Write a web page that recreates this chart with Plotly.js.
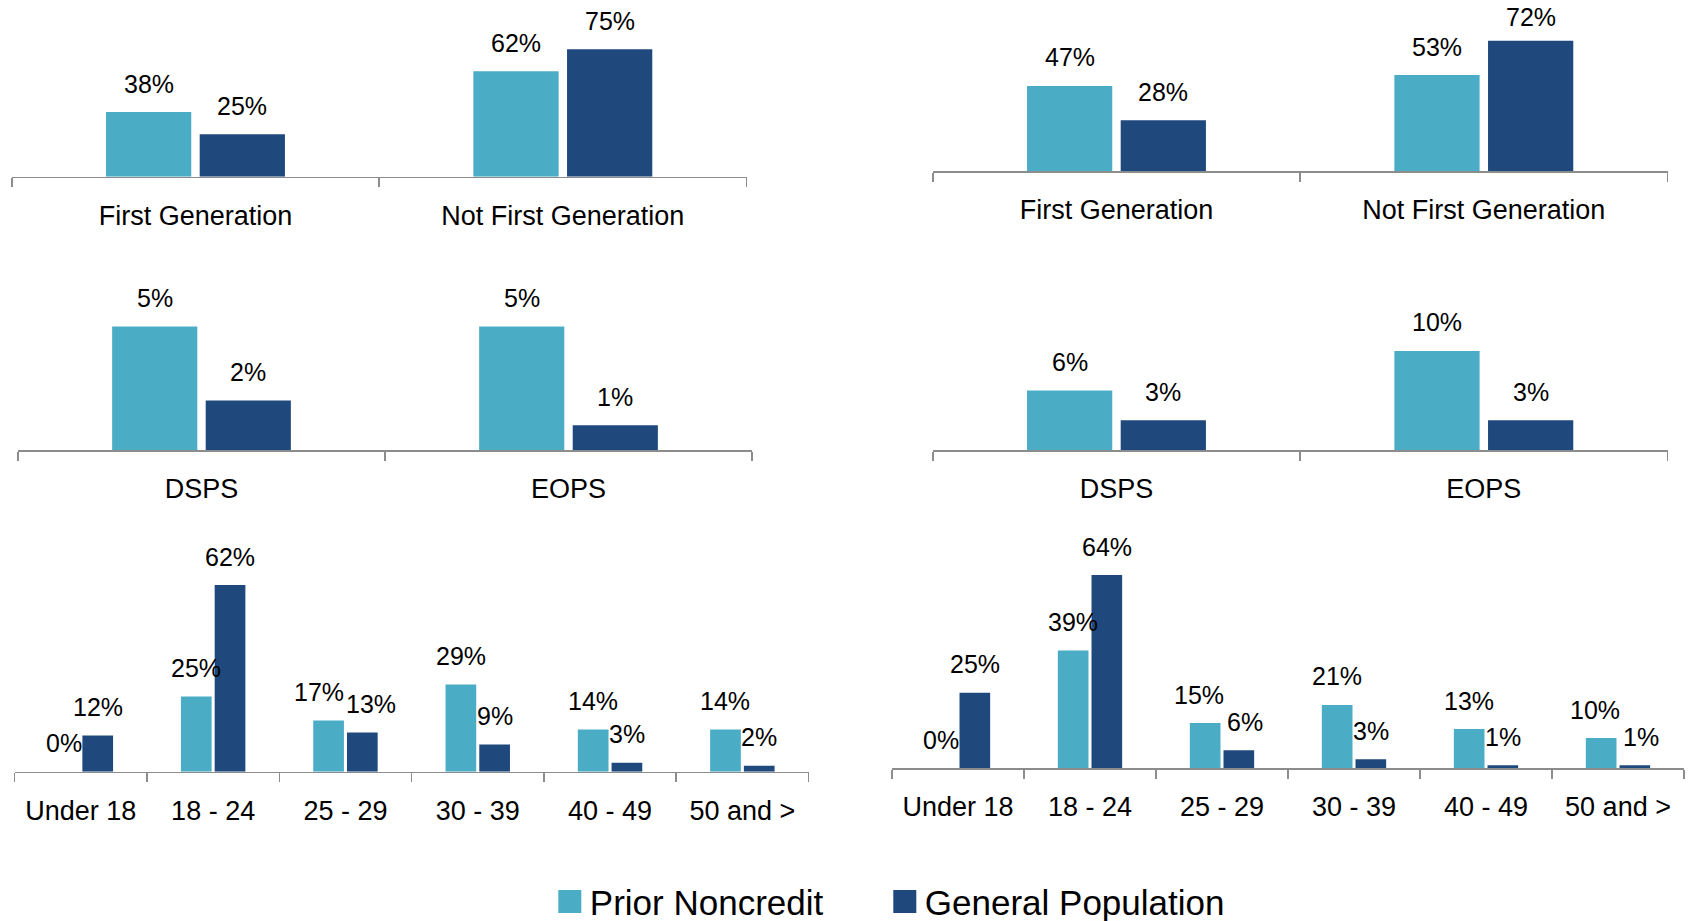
<!DOCTYPE html>
<html>
<head>
<meta charset="utf-8">
<script src="https://cdn.plot.ly/plotly-3.0.1.min.js"></script>
<style>html,body{margin:0;padding:0;background:#fff;}#chart{width:1689px;height:921px;}</style>
</head>
<body>
<div id="chart"></div>
<script>
// ---- data ----
const seriesNames = ['Prior Noncredit', 'General Population'];
const genCategories = ['First Generation', 'Not First Generation'];
const svcCategories = ['DSPS', 'EOPS'];
const ageCategories = ['Under 18', '18 - 24', '25 - 29', '30 - 39', '40 - 49', '50 and >'];

const genLeftPrior = [38, 62];
const genLeftGeneral = [25, 75];
const genRightPrior = [47, 53];
const genRightGeneral = [28, 72];

const svcLeftPrior = [5, 5];
const svcLeftGeneral = [2, 1];
const svcRightPrior = [6, 10];
const svcRightGeneral = [3, 3];

const ageLeftPrior = [0, 25, 17, 29, 14, 14];
const ageLeftGeneral = [12, 62, 13, 9, 3, 2];
const ageRightPrior = [0, 39, 15, 21, 13, 10];
const ageRightGeneral = [25, 64, 6, 3, 1, 1];

// ---- styling ----
const LIGHT = '#4BACC6';
const DARK = '#1F497D';
const FONT = '"Liberation Sans", Arial, sans-serif';
const W = 1689, H = 921;
const BARGAP = 0.49;
const LABEL_SIZE = 25;
const LABEL_LIFT = 28.5;

const panels = [
  {cats: genCategories, a: genLeftPrior, b: genLeftGeneral, x0: 11.8, x1: 746.5, base: 176.7, pxPer: 1.70, ymax: 100},
  {cats: genCategories, a: genRightPrior, b: genRightGeneral, x0: 932.8, x1: 1667.5, base: 171, pxPer: 1.81, ymax: 90},
  {cats: svcCategories, a: svcLeftPrior, b: svcLeftGeneral, x0: 18, x1: 752, base: 450, pxPer: 24.7, ymax: 6.5},
  {cats: svcCategories, a: svcRightPrior, b: svcRightGeneral, x0: 932.8, x1: 1667.5, base: 450, pxPer: 9.9, ymax: 16},
  {cats: ageCategories, a: ageLeftPrior, b: ageLeftGeneral, x0: 14.7, x1: 808.5, base: 771.7, pxPer: 3.01, ymax: 70},
  {cats: ageCategories, a: ageRightPrior, b: ageRightGeneral, x0: 892, x1: 1684, base: 768.3, pxPer: 3.02, ymax: 70}
];

const traces = [];
const annotations = [];
const layout = {
  width: W, height: H,
  margin: {l: 0, r: 0, t: 0, b: 0, autoexpand: false},
  paper_bgcolor: '#fff', plot_bgcolor: 'rgba(0,0,0,0)',
  barmode: 'group', bargap: BARGAP, bargroupgap: 0.09,
  font: {family: FONT, color: '#000', size: 27},
  showlegend: true,
  legend: {
    orientation: 'h', x: 0.325, xanchor: 'left', y: 0.03, yanchor: 'middle',
    font: {family: FONT, size: 35, color: '#000'}, traceorder: 'normal',
    bgcolor: 'rgba(0,0,0,0)'
  },
  annotations: annotations
};

// approximate label width (px) for de-overlapping neighbouring labels
const labelWidth = t => t.split('').reduce((s, c) => s + (c === '%' ? 0.889 : 0.556), 0) * LABEL_SIZE;

const off = (1 - BARGAP) / 4;
panels.forEach((p, k) => {
  const sfx = k === 0 ? '' : String(k + 1);
  const xa = 'x' + sfx, ya = 'y' + sfx;
  traces.push({type: 'bar', x: p.cats, y: p.a, name: seriesNames[0], marker: {color: LIGHT}, xaxis: xa, yaxis: ya, showlegend: false, hoverinfo: 'skip'});
  traces.push({type: 'bar', x: p.cats, y: p.b, name: seriesNames[1], marker: {color: DARK}, xaxis: xa, yaxis: ya, showlegend: false, hoverinfo: 'skip'});
  const yb = 1 - p.base / H;
  const yt = 1 - (p.base - p.pxPer * p.ymax) / H;
  layout['xaxis' + sfx] = {
    domain: [p.x0 / W, p.x1 / W], anchor: ya, type: 'category',
    range: [-0.5, p.cats.length - 0.5],
    showline: true, linecolor: '#8c8c8c', linewidth: 1.5,
    ticks: 'outside', tickson: 'boundaries', ticklen: 9, tickwidth: 1.5, tickcolor: '#8c8c8c',
    tickangle: 0,
    tickfont: {family: FONT, size: 27, color: '#000'}, ticklabelstandoff: 14,
    showgrid: false, zeroline: false, fixedrange: true
  };
  layout['yaxis' + sfx] = {
    domain: [yb, yt], anchor: xa, range: [0, p.ymax],
    visible: false, showgrid: false, zeroline: false, fixedrange: true
  };
  const slotPx = (p.x1 - p.x0) / p.cats.length * (1 - BARGAP) / 2;
  p.cats.forEach((c, i) => {
    const ta = p.a[i] + '%', tb = p.b[i] + '%';
    let push = 0;
    if (Math.abs(p.a[i] - p.b[i]) * p.pxPer < LABEL_SIZE * 1.2) {
      const gap = slotPx - (labelWidth(ta) + labelWidth(tb)) / 2;
      if (gap < 2) push = (2 - gap) / 2;
    }
    [[p.a[i], ta, -off, -push], [p.b[i], tb, off, push]].forEach(([v, t, dx, xs]) => {
      // keep the label fully inside the page
      const topRoom = p.base - v * p.pxPer - LABEL_SIZE * 0.68;
      const lift = Math.min(LABEL_LIFT, topRoom);
      annotations.push({
        xref: xa, yref: ya, x: i + dx, y: v, text: t,
        showarrow: false, xanchor: 'center', yanchor: 'middle', yshift: lift, xshift: xs,
        font: {family: FONT, size: LABEL_SIZE, color: '#000'}
      });
    });
  });
});

// legend entries
traces.push({type: 'scatter', mode: 'markers', x: [null], y: [null], xaxis: 'x', yaxis: 'y', name: seriesNames[0], legendwidth: 290, marker: {symbol: 'square', size: 16, color: LIGHT}, hoverinfo: 'skip'});
traces.push({type: 'scatter', mode: 'markers', x: [null], y: [null], xaxis: 'x', yaxis: 'y', name: seriesNames[1], legendwidth: 340, marker: {symbol: 'square', size: 16, color: DARK}, hoverinfo: 'skip'});

Plotly.newPlot('chart', traces, layout, {staticPlot: true, displayModeBar: false}).then(gd => {
  // enlarge legend swatches and place the legend row like the reference
  const lg = gd.querySelector('g.legend');
  if (!lg) return;
  lg.querySelectorAll('.legendpoints path.scatterpts').forEach(p => p.setAttribute('d', 'M11.5,11.5H-11.5V-11.5H11.5Z'));
  const sym = lg.querySelector('.legendpoints path.scatterpts');
  if (!sym) return;
  const r = sym.getBoundingClientRect();
  const host = gd.getBoundingClientRect();
  const cx = (r.left + r.right) / 2 - host.left;
  const cy = (r.top + r.bottom) / 2 - host.top;
  const dx = 569.8 - cx, dy = 901.5 - cy;
  const m = /translate\(\s*([-\d.]+)[ ,]+([-\d.]+)\s*\)/.exec(lg.getAttribute('transform') || '');
  const tx = m ? parseFloat(m[1]) : 0, ty = m ? parseFloat(m[2]) : 0;
  lg.setAttribute('transform', 'translate(' + (tx + dx) + ',' + (ty + dy) + ')');
});
</script>
</body>
</html>
